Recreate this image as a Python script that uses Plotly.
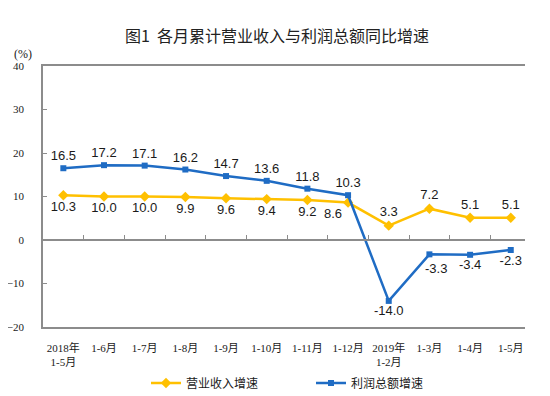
import plotly.graph_objects as go

categories = ["2018年<br>1-5月", "1-6月", "1-7月", "1-8月", "1-9月", "1-10月", "1-11月",
              "1-12月", "2019年<br>1-2月", "1-3月", "1-4月", "1-5月"]
revenue_growth = [10.3, 10.0, 10.0, 9.9, 9.6, 9.4, 9.2, 8.6, 3.3, 7.2, 5.1, 5.1]
profit_growth = [16.5, 17.2, 17.1, 16.2, 14.7, 13.6, 11.8, 10.3, -14.0, -3.3, -3.4, -2.3]
y_ticks = [40, 30, 20, 10, 0, -10, -20]
boundary_ticks = [i + 0.5 for i in range(len(categories) - 1)]

ORANGE = "#FFC000"
BLUE = "#1F6CC4"
AXIS = "#8C8C8C"
SERIF = "Liberation Serif, Noto Sans CJK SC"
SANS = "Liberation Sans, Arial"
CJK = "Noto Sans CJK SC"
LABEL_FONT = dict(family=SANS, size=13, color="#1a1a1a")

# the page body has an 8px default margin, so the figure is 8px smaller than the window
W, H = 542, 388
X_RANGE = [-0.5, len(categories) - 0.65]

rev_pos = ["bottom center"] * 7 + ["bottom left"] + ["top center"] * 4
prof_pos = ["top center"] * 8 + ["bottom center"] * 4
# the label of point index 9 of the profit series is drawn as an annotation (shifted right)
prof_text = [f"{v:.1f}" for v in profit_growth]
shifted_idx = 9
prof_text[shifted_idx] = ""

fig = go.Figure()
fig.add_trace(go.Scatter(
    x=categories, y=revenue_growth, name="营业收入增速",
    mode="lines+markers+text",
    line=dict(color=ORANGE, width=2.5),
    marker=dict(symbol="diamond", size=8, color=ORANGE),
    texttemplate="%{y:.1f}", textposition=rev_pos,
    textfont=LABEL_FONT, cliponaxis=False,
))
fig.add_trace(go.Scatter(
    x=categories, y=profit_growth, name="利润总额增速",
    mode="lines+markers+text",
    line=dict(color=BLUE, width=2.5),
    marker=dict(symbol="square", size=6, color=BLUE),
    text=prof_text, textposition=prof_pos,
    textfont=LABEL_FONT, cliponaxis=False,
))
# helper trace so that the zero-line tick axis is rendered
fig.add_trace(go.Scatter(x=[0], y=[0], xaxis="x2", yaxis="y", mode="none",
                         showlegend=False, hoverinfo="skip"))

fig.update_layout(
    width=W, height=H,
    paper_bgcolor="white", plot_bgcolor="white",
    margin=dict(l=35, r=25, t=58, b=69, autoexpand=False),
    title=dict(text="图1  各月累计营业收入与利润总额同比增速",
               font=dict(family=CJK, size=16, color="#222222"),
               x=269 / W, xref="container", xanchor="center",
               y=1 - 28 / H, yref="container", yanchor="middle"),
    xaxis=dict(type="category", categoryorder="array", categoryarray=categories,
               range=X_RANGE, showline=True, linecolor=AXIS, linewidth=1.5,
               mirror=True, ticks="", showgrid=False, zeroline=False, automargin=False,
               tickfont=dict(family=SERIF, size=11, color="#1a1a1a"),
               ticklabelstandoff=10),
    xaxis2=dict(overlaying="x", anchor="free", position=1 / 3, side="top",
                range=X_RANGE, showline=True, linecolor=AXIS, linewidth=1.5,
                ticks="outside", ticklen=4, tickcolor=AXIS, tickvals=boundary_ticks,
                showticklabels=False, showgrid=False, zeroline=False, automargin=False),
    yaxis=dict(range=[-20, 40], tickvals=y_ticks, showline=True, linecolor=AXIS,
               linewidth=1.5, ticks="inside", ticklen=4, tickcolor=AXIS,
               showgrid=False, zeroline=False, automargin=False,
               tickfont=dict(family=SERIF, size=11, color="#1a1a1a"),
               ticklabelstandoff=15),
    legend=dict(orientation="h", xref="container", yref="container",
                x=303 / W, xanchor="center", y=1 - 375 / H, yanchor="middle",
                font=dict(family=CJK, size=12, color="#1a1a1a"),
                entrywidth=120, entrywidthmode="pixels", traceorder="normal"),
    showlegend=True,
    annotations=[
        dict(text="(%)", xref="paper", yref="paper", x=0, y=1,
             xanchor="right", yanchor="bottom", xshift=-9, yshift=3,
             showarrow=False, font=dict(family=SERIF, size=12, color="#1a1a1a")),
        dict(text=f"{profit_growth[shifted_idx]:.1f}", x=categories[shifted_idx],
             y=profit_growth[shifted_idx], xref="x", yref="y",
             xanchor="center", yanchor="top", xshift=7, yshift=-5,
             showarrow=False, font=LABEL_FONT),
    ],
)

fig.write_html("out.html")
